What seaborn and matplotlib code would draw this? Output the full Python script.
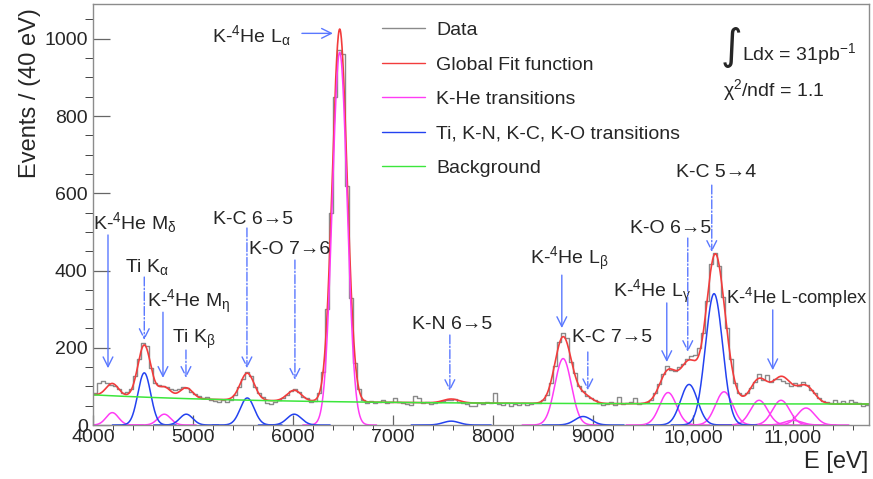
import numpy as np
import pandas as pd
import matplotlib
matplotlib.use('Agg')
import matplotlib.pyplot as plt
from matplotlib.lines import Line2D
import seaborn as sns

# measured spectrum, 40 eV bins starting at 4000 eV
bin_start = 4000
bin_width = 40
counts = [
    82, 108, 114, 108, 104, 100, 92, 84, 86, 92, 126, 170, 212, 204, 148, 110, 104, 100, 98, 94, 90, 92, 98, 96, 86,
    80, 76, 70, 72, 66, 62, 60, 64, 60, 66, 78, 98, 120, 138, 126, 98, 82, 72, 58, 54, 60, 64, 70, 78, 88,
    92, 86, 72, 70, 60, 62, 84, 136, 300, 548, 850, 972, 960, 620, 330, 160, 92, 66, 58, 62, 56, 60, 64, 56, 60,
    70, 60, 56, 54, 52, 76, 70, 58, 60, 54, 56, 60, 62, 66, 64, 68, 60, 58, 54, 50, 48, 56, 54, 60, 56,
    82, 54, 52, 56, 50, 54, 52, 56, 52, 54, 56, 58, 64, 78, 110, 152, 214, 238, 224, 162, 134, 100, 88, 76, 70,
    64, 56, 52, 54, 60, 52, 72, 54, 56, 60, 70, 54, 58, 60, 66, 84, 106, 132, 152, 142, 140, 150, 158, 170, 178,
    182, 200, 238, 320, 418, 446, 412, 332, 250, 172, 110, 84, 78, 82, 96, 112, 132, 116, 130, 112, 120, 118, 114, 108, 100,
    108, 100, 112, 104, 90, 84, 70, 62, 60, 58, 64, 58, 62, 56, 64, 60, 56, 50, 52,
]

# fitted K-He lines (gaussians): mean [eV], amplitude [counts], sigma [eV]
khe_mean = [4190, 4710, 6465, 8700, 9750, 10310, 10660, 10880, 11000, 11130]
khe_amp = [32, 28, 965, 172, 84, 86, 64, 64, 12, 44]
khe_sigma = [62, 64, 74, 82, 84, 86, 86, 86, 86, 86]

# fitted Ti, K-N, K-C, K-O lines
oth_mean = [4510, 4930, 5540, 6010, 7580, 8900, 9960, 10210]
oth_amp = [135, 28, 70, 28, 10, 22, 105, 340]
oth_sigma = [64, 65, 70, 72, 80, 82, 85, 86]

# background: const + amp * exp(-(E - 4000) / decay)
bkg_const, bkg_amp, bkg_decay = 54, 24, 1800

x_ticks = [4000, 5000, 6000, 7000, 8000, 9000, 10000, 11000]
x_tick_labels = ['4000', '5000', '6000', '7000', '8000', '9000', '10,000', '11,000']
y_ticks = [0, 200, 400, 600, 800, 1000]

sns.set_style('ticks')
plt.rcParams['font.family'] = ['Liberation Sans', 'DejaVu Sans']
plt.rcParams['mathtext.fontset'] = 'custom'
plt.rcParams['mathtext.rm'] = 'Liberation Sans'
plt.rcParams['mathtext.it'] = 'Liberation Sans:italic'
plt.rcParams['mathtext.bf'] = 'Liberation Sans:bold'
plt.rcParams['mathtext.default'] = 'regular'

c_data = '#8a8a8a'
c_fit = '#f23c3c'
c_khe = '#ff3cf5'
c_oth = '#2342f0'
c_bkg = '#3ce63c'
c_arrow = '#5a78ff'

W, H = 873, 479
fig = plt.figure(figsize=(W / 100, H / 100), dpi=100)
ax = fig.add_axes([93.3 / W, 54 / H, (869 - 93.3) / W, 421 / H])
xmin, xmax = 4000, 11760


def gauss(e, a, m, s):
    return a * np.exp(-0.5 * ((e - m) / s) ** 2)


# data histogram
edges = bin_start + bin_width * np.arange(len(counts) + 1)
hist = pd.DataFrame({'E': edges, 'n': list(counts) + [counts[-1]]})
sns.lineplot(data=hist, x='E', y='n', drawstyle='steps-post', color=c_data, lw=1.0,
             estimator=None, ax=ax, legend=False)

# fit
E = np.linspace(xmin, xmax, 4000)
bkg = bkg_const + bkg_amp * np.exp(-(E - 4000) / bkg_decay)
total = bkg.copy()
for a, m, s in zip(khe_amp + oth_amp, khe_mean + oth_mean, khe_sigma + oth_sigma):
    total += gauss(E, a, m, s)
sns.lineplot(x=E, y=total, color=c_fit, lw=1.2, ax=ax, estimator=None, legend=False)

for a, m, s in zip(khe_amp, khe_mean, khe_sigma):
    e = E[(E > m - 5 * s) & (E < m + 5 * s)]
    sns.lineplot(x=e, y=gauss(e, a, m, s), color=c_khe, lw=1.1, ax=ax, estimator=None, legend=False)
for a, m, s in zip(oth_amp, oth_mean, oth_sigma):
    e = E[(E > m - 5 * s) & (E < m + 5 * s)]
    sns.lineplot(x=e, y=gauss(e, a, m, s), color=c_oth, lw=1.1, ax=ax, estimator=None, legend=False)

sns.lineplot(x=E, y=bkg, color=c_bkg, lw=1.1, ax=ax, estimator=None, legend=False)

ax.set_xlim(xmin, xmax)
ax.set_ylim(0, 1090)
ax.set_xlabel('')
ax.set_ylabel('')
ax.set_xticks(x_ticks)
ax.set_xticklabels(x_tick_labels)
ax.set_xticks(np.arange(4000, 11761, 200), minor=True)
ax.set_yticks(y_ticks)
ax.set_yticks(np.arange(0, 1090, 50), minor=True)
ax.tick_params(direction='in', color='#666666', labelsize=14, width=0.9)
ax.tick_params(axis='x', which='major', length=7, pad=3)
ax.tick_params(axis='x', which='minor', length=3.5)
ax.tick_params(axis='y', which='major', length=12, pad=4)
ax.tick_params(axis='y', which='minor', length=6)
for sp in ax.spines.values():
    sp.set_color('#8c8c8c')
    sp.set_linewidth(1.0)

fig.text(30 / W, 1 - 8 / H, 'Events / (40 eV)', rotation=90, ha='center', va='top', fontsize=17)
fig.text(868 / W, 17 / H, 'E [eV]', ha='right', va='center', fontsize=17)

# line labels: text, text x, text baseline, horizontal alignment, size, arrow x, arrow from, arrow to, dashed
labels = [
    (r'K-$^{4}$He M$_{\delta}$', 4000, 507, 'left', 14, 4147, 492, 147, False),
    (r'Ti K$_{\alpha}$', 4317, 396, 'left', 14, 4510, 383, 220, True),
    (r'K-$^{4}$He M$_{\eta}$', 4537, 305, 'left', 14, 4697, 292, 122, False),
    (r'Ti K$_{\beta}$', 4787, 212, 'left', 14, 4927, 194, 122, True),
    ('K-C 6→5', 5197, 520, 'left', 14, 5537, 510, 147, True),
    ('K-O 7→6', 5557, 442, 'left', 14, 6017, 427, 117, True),
    ('K-N 6→5', 7187, 248, 'left', 14, 7567, 233, 88, True),
    (r'K-$^{4}$He L$_{\beta}$', 8367, 417, 'left', 14, 8687, 388, 251, False),
    ('K-C 7→5', 8787, 215, 'left', 14, 8947, 189, 90, True),
    (r'K-$^{4}$He L$_{\gamma}$', 9197, 331, 'left', 14, 9737, 316, 163, False),
    ('K-O 6→5', 9367, 497, 'left', 14, 9947, 484, 189, True),
    ('K-C 5→4', 9827, 642, 'left', 14, 10187, 621, 448, True),
    (r'K-$^{4}$He L-complex', 11745, 313, 'right', 13.2, 10797, 298, 142, False),
]
for txt, tx, ty, ha, fs, axx, y0, y1, dashed in labels:
    ax.text(tx, ty, txt, fontsize=fs, ha=ha, va='baseline')
    ax.annotate('', xy=(axx, y1), xytext=(axx, y0),
                arrowprops=dict(arrowstyle='->,head_length=0.5,head_width=0.25', color=c_arrow,
                                lw=1.0, linestyle='-.' if dashed else '-',
                                shrinkA=0, shrinkB=0, mutation_scale=14))

ax.text(5187, 991, r'K-$^{4}$He L$_{\alpha}$', fontsize=14, ha='left', va='baseline')
ax.annotate('', xy=(6397, 1014), xytext=(6087, 1014),
            arrowprops=dict(arrowstyle='->,head_length=0.5,head_width=0.25', color=c_arrow,
                            lw=1.0, shrinkA=0, shrinkB=0, mutation_scale=14))

# legend
leg_items = [('Data', c_data), ('Global Fit function', c_fit), ('K-He transitions', c_khe),
             ('Ti, K-N, K-C, K-O transitions', c_oth), ('Background', c_bkg)]
for i, (name, col) in enumerate(leg_items):
    yc = 28.3 + 34.4 * i
    fig.add_artist(Line2D([381.7 / W, 425 / W], [1 - yc / H, 1 - yc / H], color=col, lw=1.0))
    fig.text(436 / W, 1 - (yc + 7) / H, name, fontsize=14, ha='left', va='baseline')

fig.text(721 / W, 1 - 47 / H, '∫', fontsize=30, ha='left', va='center', family='DejaVu Sans')
fig.text(742 / W, 1 - 60 / H, r'Ldx = 31pb$^{-1}$', fontsize=14, ha='left', va='baseline')
fig.text(723 / W, 1 - 96 / H, r'$\chi^{2}$/ndf = 1.1', fontsize=14, ha='left', va='baseline')

fig.savefig('out.png', dpi=100)
